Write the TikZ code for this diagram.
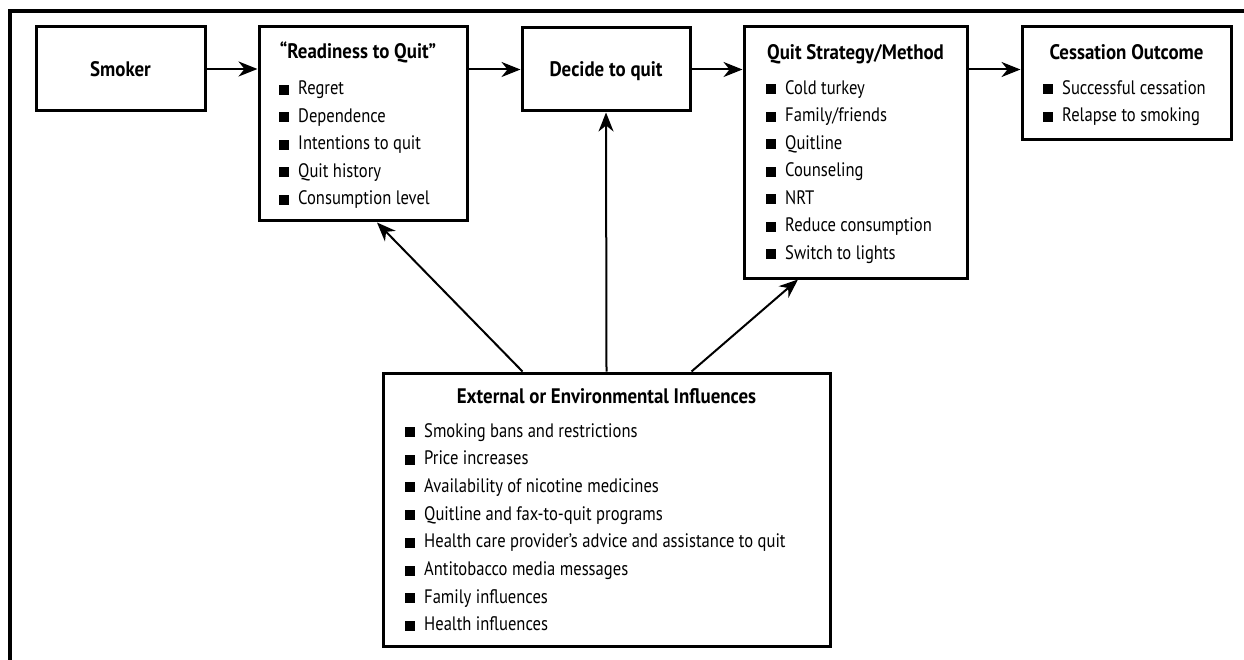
\documentclass[tikz,border=0pt]{standalone}
\usepackage{fontspec}
\setmainfont{PT Sans}[FakeStretch=0.85,BoldFeatures={FakeStretch=0.9}]
\usetikzlibrary{arrows.meta}
\newcommand{\bul}{\rule{10pt}{10pt}\hspace{9pt}}
\begin{document}
\begin{tikzpicture}[x=1pt,y=-1pt,
  box/.style={draw, line width=3pt, inner sep=0pt, minimum width=#1},
  ttl/.style={inner sep=0pt, anchor=base, font=\fontsize{21}{25}\selectfont\bfseries},
  item/.style={inner sep=0pt, anchor=base west, font=\fontsize{19.5}{23}\selectfont},
  conn/.style={line width=2pt, -{Stealth[length=19pt,width=15pt,inset=6pt]}},
  frame/.style={line width=4pt}]
\useasboundingbox (0,0) rectangle (1244,660);
% outer frame (left and top sides)
\draw[frame] (10,662) -- (10,11) -- (1246,11);
% boxes
\node[box=169pt, minimum height=84pt] (smoker) at (120.5,69) {};
\node[box=208pt, minimum height=194pt] (ready) at (363,124) {};
\node[box=168pt, minimum height=83pt] (decide) at (606,69.5) {};
\node[box=223pt, minimum height=251pt] (qs) at (855.5,152.5) {};
\node[box=209pt, minimum height=113pt] (cess) at (1126.5,83.5) {};
\node[box=447pt, minimum height=273pt] (ext) at (606.5,509.5) {};
% titles
\node[ttl] (smokerT) at (120.5,77) {Smoker};
\node[ttl] (readyT) at (358,59) {“Readiness to Quit”};
\node[ttl] (decideT) at (606,77) {Decide to quit};
\node[ttl] (qsT) at (855.5,60) {Quit Strategy/Method};
\node[ttl] (cessT) at (1126.5,60) {Cessation Outcome};
\node[ttl] (extT) at (606.5,403) {External or Environmental Influences};
% items
\foreach \t [count=\i] in {Regret,Dependence,Intentions to quit,Quit history,Consumption level}
  \node[item] (r\i) at (279,{95+27.5*(\i-1)}) {\bul\t};
\foreach \t [count=\i] in {Cold turkey,Family/friends,Quitline,Counseling,NRT,Reduce consumption,Switch to lights}
  \node[item] (q\i) at (766,{94.5+27.45*(\i-1)}) {\bul\t};
\foreach \t [count=\i] in {Successful cessation,Relapse to smoking}
  \node[item] (c\i) at (1043,{94.5+27.5*(\i-1)}) {\bul\t};
\foreach \t [count=\i] in {Smoking bans and restrictions,Price increases,Availability of nicotine medicines,Quitline and fax-to-quit programs,Health care provider’s advice and assistance to quit,Antitobacco media messages,Family influences,Health influences}
  \node[item] (e\i) at (405,{437+27.7*(\i-1)}) {\bul\t};
% connectors
\draw[conn] (smoker.east) -- (ready.west |- smoker.east);
\draw[conn] (ready.east |- decide.west) -- (decide.west);
\draw[conn] (decide.east) -- (qs.west |- decide.east);
\draw[conn] (qs.east |- decide.east) -- (cess.west |- decide.east);
\coordinate (eL) at ([xshift=-84pt]ext.north);
\coordinate (eR) at ([xshift=85pt]ext.north);
\coordinate (rB) at ([xshift=14pt]ready.south);
\coordinate (qB) at ([xshift=-57.5pt]qs.south);
\draw[conn] (eL) -- (rB);
\draw[conn] (ext.north) -- (decide.south);
\draw[conn] (eR) -- (qB);
\end{tikzpicture}
\end{document}
